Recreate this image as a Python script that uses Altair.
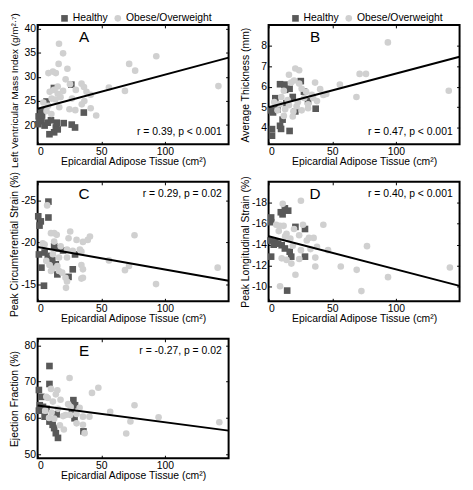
import altair as alt
import pandas as pd

FONT = "Liberation Sans"
X_TITLE = "Epicardial Adipose Tissue (cm\u00b2)"
GROUPS = ["Healthy", "Obese/Overweight"]
GROUP_COLORS = ["#595959", "#d0d0d0"]
GROUP_SHAPES = ["square", "circle"]
X_TICKS = [0, 50, 100]
X_DOMAIN = [0, 150]
FIT_X = [0, 150]

# ---------------- Panel A: LV mass index ----------------
A_healthy_eat = [12.8, 26.5, 7.0, 36.3, 2.5, 5.5, 0.8, 3.0, 0.5, 5.5, 9.3, 13.0, 14.3, 15.0, 20.5, 26.8, 29.4, 1.5, 8.0, 10.5, 3.5, 15.8]
A_healthy_val = [27.7, 28.4, 24.9, 22.6, 22.7, 23.1, 21.8, 20.8, 20.2, 19.9, 18.1, 18.5, 19.5, 20.5, 20.4, 20.1, 19.5, 21.2, 20.5, 21.0, 22.0, 19.1]
A_obese_eat = [16.8, 20.0, 16.5, 23.4, 8.5, 12.0, 14.3, 22.0, 25.4, 34.5, 36.4, 9.5, 12.8, 15.8, 20.0, 30.0, 38.4, 41.7, 14.0, 27.0,
               36.7, 4.5, 8.3, 17.0, 25.0, 34.7, 41.7, 46.0, 7.0, 10.8, 29.6, 56.0, 71.9, 76.6, 93.2, 68.6, 142.0, 15.8, 18.0, 11.0]
A_obese_val = [36.9, 34.9, 32.7, 31.7, 30.8, 31.1, 30.8, 29.5, 28.5, 28.6, 27.9, 26.9, 27.3, 26.5, 27.1, 27.3, 26.9, 26.3, 25.3, 25.5,
               25.0, 24.7, 24.0, 23.7, 23.3, 24.3, 23.5, 22.0, 22.9, 22.3, 23.1, 27.8, 32.7, 31.3, 34.3, 27.1, 28.1, 28.0, 25.8, 25.5]
A_fit = [23.4, 34.0]

# ---------------- Panel B: average thickness ----------------
B_healthy_eat = [9.0, 12.5, 13.0, 16.5, 25.3, 27.8, 31.0, 37.0, 5.3, 2.0, 3.5, 9.0, 9.8, 16.5, 2.7, 2.7, 21.0, 14.0, 11.0, 7.0, 19.0]
B_healthy_val = [6.12, 6.10, 5.85, 5.90, 6.27, 5.76, 5.29, 4.93, 5.44, 4.85, 4.75, 4.10, 3.95, 3.85, 3.62, 3.94, 4.80, 5.20, 4.40, 4.90, 5.50]
B_obese_eat = [93.7, 21.0, 24.0, 16.0, 17.7, 24.0, 36.5, 56.0, 71.5, 76.5, 69.0, 45.3, 40.5, 141.5, 12.0, 29.5, 34.0, 4.5, 9.0, 16.0,
               23.0, 31.0, 38.0, 7.0, 13.0, 19.5, 26.0, 31.0, 12.0, 19.0, 28.0, 35.0, 15.0, 22.0, 10.0, 26.0, 43.0, 20.0]
B_obese_val = [8.15, 6.88, 6.80, 6.58, 6.20, 6.15, 6.20, 6.10, 6.62, 6.62, 5.50, 5.65, 5.88, 5.80, 5.80, 5.75, 5.60, 5.25, 5.15, 5.10,
               5.25, 5.15, 5.30, 4.85, 4.90, 4.80, 4.85, 4.95, 4.58, 4.55, 5.45, 5.45, 5.35, 5.05, 5.50, 5.90, 5.60, 6.30]
B_fit = [5.0, 7.45]

# ---------------- Panel C: peak circumferential strain ----------------
C_healthy_eat = [8.5, 0.5, 8.5, 2.5, 1.0, 3.0, 5.0, 8.0, 10.5, 13.0, 14.3, 15.5, 20.0, 24.3, 27.6, 29.4, 5.5, 11.5, 16.5, 1.5]
C_healthy_val = [-24.85, -23.1, -22.96, -22.5, -18.57, -17.0, -14.85, -18.2, -18.4, -19.55, -17.4, -16.2, -19.04, -15.9, -16.8, -18.57, -18.8, -17.9, -19.3, -22.0]
C_obese_eat = [7.5, 10.5, 13.0, 15.0, 25.6, 24.3, 30.6, 35.6, 39.4, 41.1, 5.5, 13.0, 18.1, 23.1, 27.6, 33.2, 34.4, 6.8, 9.3, 16.8,
               11.8, 15.5, 10.5, 16.8, 23.1, 34.4, 35.6, 19.3, 21.9, 23.1, 34.4, 22.3, 35.6, 56.0, 68.6, 71.8, 76.1, 93.0, 141.4, 4.0, 12.0]
C_obese_val = [-24.4, -21.1, -21.1, -20.9, -21.3, -20.5, -20.3, -20.06, -20.3, -20.7, -19.74, -20.1, -19.55, -19.15, -19.0, -19.15, -18.9, -17.8, -17.3, -18.2,
               -16.9, -17.2, -16.6, -16.6, -18.2, -17.3, -15.8, -16.4, -15.8, -15.35, -15.7, -14.6, -16.8, -17.86, -16.7, -17.2, -20.85, -15.04, -17.0, -19.9, -18.6]
C_fit = [-19.45, -15.45]

# ---------------- Panel D: peak longitudinal strain ----------------
D_healthy_eat = [12.8, 15.4, 9.6, 2.0, 2.0, 21.1, 28.6, 1.5, 5.3, 10.3, 12.8, 16.6, 17.8, 2.0, 28.6, 14.6, 7.5, 4.0, 11.0]
D_healthy_val = [-17.47, -17.25, -17.1, -16.15, -16.6, -15.7, -15.5, -14.4, -14.27, -13.95, -13.64, -13.33, -12.86, -12.86, -12.86, -9.62, -14.1, -14.0, -16.9]
D_obese_eat = [25.4, 11.1, 9.0, 43.0, 31.7, 35.4, 38.0, 36.7, 10.3, 14.1, 17.9, 24.1, 21.1, 36.7, 9.0, 25.4, 32.9, 46.7, 14.1, 17.1,
               8.0, 11.8, 56.7, 69.2, 77.3, 72.9, 93.8, 142.4, 20.0, 27.0, 13.0, 6.0, 24.0, 19.0, 30.0]
D_obese_val = [-18.2, -17.9, -15.8, -15.9, -14.65, -14.65, -13.8, -12.77, -12.7, -12.55, -12.2, -12.64, -11.13, -11.92, -10.04, -13.48, -13.58, -13.48, -15.05, -14.58,
               -15.3, -15.8, -11.92, -11.6, -13.86, -9.57, -10.9, -11.83, -15.5, -15.9, -14.8, -15.9, -14.9, -13.9, -14.4]
D_fit = [-14.8, -10.07]

# ---------------- Panel E: ejection fraction ----------------
E_healthy_eat = [9.3, 9.3, 1.0, 3.0, 1.7, 4.2, 1.0, 5.5, 9.3, 11.8, 13.0, 14.3, 16.0, 28.1, 29.4, 29.0, 36.0, 7.0, 15.0, 27.0]
E_healthy_val = [74.3, 69.35, 67.7, 65.8, 63.5, 63.05, 62.0, 60.35, 59.0, 58.1, 57.2, 55.8, 54.5, 64.9, 63.5, 59.9, 56.3, 62.5, 61.0, 62.3]
E_obese_eat = [25.1, 47.7, 42.7, 10.5, 15.5, 14.3, 30.6, 35.6, 40.7, 57.0, 30.6, 35.6, 36.9, 20.6, 69.6, 76.1, 72.9, 95.0, 142.7, 12.0,
               18.0, 8.0, 22.0, 6.0, 11.0, 16.0, 20.0, 26.0, 24.0, 33.0, 13.0, 9.0, 17.5, 6.8, 25.6]
E_obese_val = [71.0, 68.3, 66.9, 68.0, 67.6, 66.5, 61.1, 60.35, 60.35, 61.7, 58.5, 58.1, 55.8, 56.8, 55.7, 63.5, 59.0, 60.2, 58.8, 64.5,
               65.0, 65.5, 60.8, 62.0, 61.5, 62.5, 60.5, 63.0, 63.8, 62.8, 59.8, 60.0, 58.0, 65.8, 60.8]
E_fit = [63.4, 56.5]

MINUS_FIX = "replace(datum.label, '\u2212', '-')"
PW = 193.5    # plot-area width of each panel
PH = 121      # plot-area height of each panel


def make_panel(h_eat, h_val, o_eat, o_val, fit, ydomain, yticks, ytitle, reverse,
               letter, stat, stat_top, legend=False, title_y=None, title_size=None):
    pts = pd.DataFrame({
        "eat": list(h_eat) + list(o_eat),
        "val": list(h_val) + list(o_val),
        "group": [GROUPS[0]] * len(h_eat) + [GROUPS[1]] * len(o_eat),
    })
    fitdf = pd.DataFrame({"eat": FIT_X, "val": fit})
    xscale = alt.Scale(domain=X_DOMAIN, nice=False, zero=False)
    yscale = alt.Scale(domain=ydomain, nice=False, zero=False, reverse=reverse)

    if legend:
        leg = alt.Legend(orient="none", legendX=22, legendY=-12, direction="horizontal",
                         title=None, labelFont=FONT, labelFontSize=10.5, labelColor="black",
                         symbolSize=45, symbolStrokeWidth=0, columnPadding=4, labelOffset=3,
                         padding=0)
    else:
        leg = None

    # the axis group sits 3px inside the plot (offset=-3), so titleX is measured from there
    yaxis_kw = dict(values=yticks, title=ytitle, orient="left", offset=-3, tickSize=3,
                    domain=False, grid=False, labelPadding=2, titleX=-21.5,
                    titleBaseline="bottom", labelExpr=MINUS_FIX)
    if title_y is not None:
        yaxis_kw["titleY"] = title_y
    if title_size is not None:
        yaxis_kw["titleFontSize"] = title_size

    points = alt.Chart(pts).mark_point(filled=True, size=45, opacity=1, strokeWidth=0).encode(
        x=alt.X("eat:Q", scale=xscale,
                axis=alt.Axis(values=X_TICKS, title=X_TITLE, orient="bottom", offset=-3, tickSize=3,
                              domain=False, grid=False, labelPadding=2, titlePadding=0)),
        y=alt.Y("val:Q", scale=yscale, axis=alt.Axis(**yaxis_kw)),
        color=alt.Color("group:N", scale=alt.Scale(domain=GROUPS, range=GROUP_COLORS), legend=leg),
        shape=alt.Shape("group:N", scale=alt.Scale(domain=GROUPS, range=GROUP_SHAPES), legend=leg),
    )

    fit_line = alt.Chart(fitdf).mark_line(color="black", strokeWidth=2).encode(
        x=alt.X("eat:Q", scale=xscale,
                axis=alt.Axis(values=X_TICKS, orient="top", labels=False, title=None, offset=-3,
                              tickSize=3, domain=False, grid=False)),
        y=alt.Y("val:Q", scale=yscale,
                axis=alt.Axis(values=yticks, orient="right", labels=False, title=None, offset=-3,
                              tickSize=3, domain=False, grid=False)),
    )

    letter_mark = alt.Chart(pd.DataFrame({"label": [letter]})).mark_text(
        font=FONT, fontSize=15.5, align="center", baseline="middle", color="black"
    ).encode(text="label:N", x=alt.value(47), y=alt.value(12))

    stat_mark = alt.Chart(pd.DataFrame({"label": [stat]})).mark_text(
        font=FONT, fontSize=10.5, align="right", baseline="middle", color="black"
    ).encode(text="label:N", x=alt.value(PW - 7), y=alt.value(12 if stat_top else PH - 12))

    return alt.layer(points, fit_line, letter_mark, stat_mark).resolve_axis(
        x="independent", y="independent"
    ).properties(width=PW, height=PH)


pA = make_panel(A_healthy_eat, A_healthy_val, A_obese_eat, A_obese_val, A_fit,
                [16, 40.8], [20, 25, 30, 35, 40],
                "Left Ventricular Mass Index (g/m\u00b2\u00b7\u2077)", False,
                "A", "r = 0.39, p < 0.001", False, legend=True, title_y=66, title_size=10)
pB = make_panel(B_healthy_eat, B_healthy_val, B_obese_eat, B_obese_val, B_fit,
                [3.2, 9.0], [4, 5, 6, 7, 8], "Average Thickness (mm)", False,
                "B", "r = 0.47, p < 0.001", False, legend=True)
pC = make_panel(C_healthy_eat, C_healthy_val, C_obese_eat, C_obese_val, C_fit,
                [-27.2, -13.0], [-25, -20, -15], "Peak Circumferential Strain (%)", True,
                "C", "r = 0.29, p = 0.02", True, title_y=63)
pD = make_panel(D_healthy_eat, D_healthy_val, D_obese_eat, D_obese_val, D_fit,
                [-20.0, -8.6], [-18, -16, -14, -12, -10], "Peak Longitudinal Strain (%)", True,
                "D", "r = 0.40, p < 0.001", True)
pE = make_panel(E_healthy_eat, E_healthy_val, E_obese_eat, E_obese_val, E_fit,
                [48.9, 81.8], [50, 60, 70, 80], "Ejection Fraction (%)", False,
                "E", "r = -0.27, p = 0.02", True)

chart = alt.concat(
    pA, pB, pC, pD, pE, columns=2,
    spacing={"row": 38, "column": 40},
    bounds="flush",
    padding=0,
).resolve_legend(
    color="independent", shape="independent"
).configure_view(
    stroke="black", strokeWidth=2
).configure_axis(
    labelFont=FONT, labelFontSize=10.5, labelColor="black",
    titleFont=FONT, titleFontSize=10.5, titleFontWeight="normal", titleColor="black",
    tickColor="black", tickWidth=1,
).configure_legend(
    labelFont=FONT, labelFontSize=10.5, labelColor="black"
).configure_text(font=FONT)

chart.save("out.html", embed_options={"renderer": "svg", "actions": False})
